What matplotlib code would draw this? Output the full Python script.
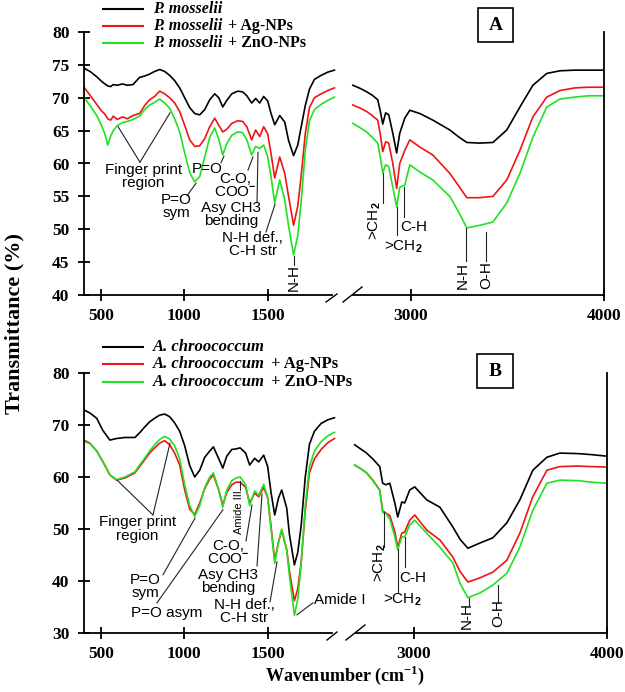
import matplotlib
matplotlib.use("Agg")
import matplotlib.pyplot as plt
from matplotlib.lines import Line2D
from matplotlib.patches import Rectangle

plt.rcParams["font.family"] = ["Liberation Serif", "DejaVu Serif"]
plt.rcParams["font.weight"] = "bold"
plt.rcParams["mathtext.fontset"] = "custom"
plt.rcParams["mathtext.rm"] = "Liberation Sans"
plt.rcParams["mathtext.it"] = "Liberation Sans:italic"
plt.rcParams["mathtext.bf"] = "Liberation Serif:bold"

# ---------------- data: panel A (P. mosselii) ----------------
legend_A = ["P. mosselii", "P. mosselii", "P. mosselii"]
suffix = ["", "+ Ag-NPs", "+ ZnO-NPs"]

wn_A_low = [400, 436, 476, 505, 525, 542, 560, 575, 600, 630,
            660, 693, 733, 763, 793, 823, 853, 883, 913, 943,
            973, 1003, 1033, 1063, 1093, 1123, 1153, 1183, 1207, 1231,
            1255, 1285, 1320, 1350, 1375, 1404, 1428, 1452, 1476, 1500,
            1520, 1542, 1572, 1602, 1625, 1655, 1680, 1700, 1725, 1750,
            1780, 1820, 1860, 1900]
A_ctrl_low = [74.5, 74.0, 73.2, 72.5, 72.1, 71.8, 71.7, 72.0, 71.9, 72.1,
              71.9, 72.0, 73.1, 73.3, 73.6, 74.0, 74.3, 74.0, 73.4, 72.6,
              71.5, 70.0, 68.5, 67.6, 67.4, 68.2, 69.7, 70.6, 70.0, 68.6,
              69.6, 70.6, 71.0, 70.9, 70.3, 69.2, 69.9, 69.2, 70.2, 69.5,
              67.6, 65.9, 67.3, 66.3, 63.5, 61.2, 62.8, 65.5, 68.8, 71.3,
              72.8, 73.4, 73.9, 74.2]
A_ag_low = [71.6, 70.4, 69.0, 68.0, 67.5, 66.8, 66.6, 67.2, 66.7, 67.1,
            66.8, 67.3, 67.6, 68.8, 69.7, 70.2, 71.0, 70.6, 70.0, 69.2,
            67.9, 65.8, 63.6, 62.6, 62.7, 63.8, 65.6, 66.9, 65.8, 64.8,
            65.2, 66.1, 66.5, 66.4, 65.6, 63.6, 65.1, 64.1, 65.6, 64.5,
            61.5, 57.8, 61.0, 58.5, 55.0, 50.6, 53.5, 58.0, 64.5, 68.5,
            70.0, 70.6, 71.1, 71.5]
A_zno_low = [70.1, 68.8, 67.3, 65.8, 64.5, 62.8, 64.2, 65.0, 65.8, 66.2,
             66.4, 66.7, 67.2, 68.2, 68.9, 69.3, 69.8, 69.2, 68.4, 66.8,
             64.8, 61.6, 58.6, 57.2, 58.0, 61.0, 64.0, 65.4, 63.7, 61.3,
             63.0, 64.3, 64.8, 64.7, 63.6, 61.3, 62.6, 62.3, 62.8, 61.0,
             58.0, 54.0, 57.5, 54.5, 50.5, 46.1, 49.0, 54.0, 62.0, 66.5,
             68.2, 69.0, 69.6, 70.1]

wn_A_high = [2700, 2740, 2772, 2800, 2829, 2842, 2855, 2870, 2886, 2907,
             2927, 2943, 2969, 2995, 3047, 3114, 3202, 3250, 3290, 3357,
             3425, 3497, 3565, 3632, 3704, 3772, 3850, 3920, 4000]
A_ctrl_high = [71.9, 71.4, 70.9, 70.4, 69.7, 68.0, 66.0, 67.7, 67.4, 64.6,
               61.6, 64.6, 66.9, 68.1, 67.6, 66.6, 65.1, 64.0, 63.2, 63.1,
               63.2, 65.1, 68.6, 71.9, 73.7, 74.1, 74.2, 74.2, 74.2]
A_ag_high = [68.9, 68.4, 67.9, 67.3, 66.6, 64.5, 61.8, 63.3, 63.1, 60.0,
             56.2, 60.0, 62.0, 63.6, 62.5, 61.3, 58.5, 56.5, 54.8, 54.8,
             55.0, 57.5, 62.0, 67.1, 70.1, 71.1, 71.5, 71.6, 71.6]
A_zno_high = [66.1, 65.4, 64.8, 64.0, 63.1, 61.0, 58.6, 59.8, 59.5, 56.4,
              53.4, 56.4, 56.7, 59.8, 58.7, 57.5, 55.0, 52.5, 50.2, 50.6,
              51.1, 54.0, 58.5, 64.0, 68.6, 69.8, 70.1, 70.3, 70.3]

# ---------------- data: panel B (A. chroococcum) ----------------
legend_B = ["A. chroococcum", "A. chroococcum", "A. chroococcum"]

wn_B_low = [400, 436, 476, 512, 555, 595, 645, 705,
            733, 763, 793, 823, 853, 883, 913, 943,
            973, 1003, 1033, 1063, 1093, 1123, 1153, 1175,
            1207, 1231, 1255, 1285, 1310, 1335, 1368,
            1392, 1422, 1446, 1476, 1500, 1520,
            1542, 1565, 1584, 1614, 1630, 1660, 1680,
            1700, 1725, 1750, 1780, 1820, 1860, 1900]
B_ctrl_low = [72.9, 72.3, 71.3, 69.0, 67.1, 67.4, 67.6, 67.6,
              68.5, 69.6, 70.6, 71.3, 71.9, 72.1, 71.6, 70.4,
              68.8, 66.0, 62.2, 60.0, 61.3, 63.8, 65.0, 65.8,
              63.5, 61.7, 64.0, 65.3, 65.4, 65.6, 64.6,
              62.3, 63.6, 62.9, 64.2, 62.0, 57.0,
              52.7, 56.0, 57.5, 54.0, 49.0, 43.1, 45.5,
              50.5, 60.0, 66.3, 68.8, 70.3, 71.0, 71.4]
B_ag_low = [67.1, 66.5, 65.0, 63.0, 60.4, 59.4, 59.8, 60.8,
            62.0, 63.3, 64.6, 65.6, 66.5, 67.0, 66.2, 64.6,
            62.3, 57.5, 53.8, 52.8, 55.0, 57.8, 59.6, 60.4,
            57.5, 54.6, 57.0, 58.5, 59.0, 59.0, 58.0,
            55.0, 56.9, 56.2, 58.0, 56.0, 50.5,
            44.0, 47.5, 49.8, 46.0, 42.0, 36.2, 38.5,
            43.5, 53.5, 60.8, 63.5, 65.3, 66.6, 67.4]
B_zno_low = [66.8, 66.4, 65.0, 63.0, 60.4, 59.5, 60.0, 61.0,
             62.3, 63.6, 65.0, 66.2, 67.2, 67.8, 67.3, 66.0,
             63.5, 58.5, 54.5, 52.4, 54.5, 58.0, 60.0, 60.8,
             57.5, 54.2, 57.5, 59.3, 59.8, 60.0, 58.5,
             54.5, 57.3, 56.5, 58.6, 56.0, 50.0,
             43.4, 47.5, 50.0, 46.0, 41.0, 33.4, 36.5,
             43.0, 54.5, 62.0, 65.0, 66.8, 67.9, 68.6]

wn_B_high = [2694, 2725, 2756, 2790, 2824, 2839, 2855, 2876, 2902, 2917,
             2938, 2953, 2979, 3005, 3067, 3135, 3202, 3240, 3280, 3342,
             3409, 3482, 3549, 3616, 3689, 3756, 3850, 3920, 4000]
B_ctrl_high = [66.2, 65.4, 64.6, 63.4, 62.0, 58.8, 58.5, 58.8, 55.0, 52.3,
               55.2, 55.0, 57.5, 58.1, 55.6, 54.2, 50.4, 48.0, 46.3, 47.3,
               48.3, 51.2, 55.6, 61.3, 63.8, 64.6, 64.5, 64.3, 64.0]
B_ag_high = [62.3, 61.6, 60.8, 59.3, 57.5, 53.5, 53.1, 52.6, 49.5, 46.5,
             49.2, 49.4, 51.7, 52.7, 49.8, 47.9, 44.6, 41.8, 39.8, 40.6,
             41.7, 44.0, 49.2, 56.2, 61.3, 62.0, 62.1, 62.0, 61.9]
B_zno_high = [62.3, 61.6, 60.8, 59.2, 57.4, 53.2, 53.0, 51.9, 48.5, 46.0,
              48.5, 48.5, 50.8, 51.7, 49.2, 46.5, 43.5, 39.5, 36.8, 37.7,
              39.2, 41.5, 46.5, 53.6, 58.8, 59.4, 59.3, 59.0, 58.8]

xticks_low = [500, 1000, 1500]
xticks_high = [3000, 4000]
yticks_A = [40, 45, 50, 55, 60, 65, 70, 75, 80]
yticks_B = [30, 40, 50, 60, 70, 80]

# ---------------- styling ----------------
COLORS = ["#000000", "#F01414", "#22E022"]
W, H = 625, 692
fig = plt.figure(figsize=(W / 100, H / 100), dpi=100)
fig.patch.set_facecolor("white")
renderer = fig.canvas.get_renderer()


def fx(px):
    return px / W


def fy(py):
    return 1 - py / H


def add_axes(l, r, t, b):
    return fig.add_axes([fx(l), fy(b), (r - l) / W, (b - t) / H])


ANN = dict(family="Liberation Sans", weight="normal", fontsize=11,
           color="black", linespacing=0.92, ha="center", va="center",
           clip_on=False)


def style_axes(axL, axR, ylim, yticks):
    for ax in (axL, axR):
        ax.set_ylim(*ylim)
        ax.set_facecolor("none")
        for s in ax.spines.values():
            s.set_linewidth(1.3)
        ax.spines["top"].set_visible(False)
        ax.tick_params(axis="both", direction="inout", length=9, width=1.3,
                       labelsize=12.5)
        ax.tick_params(axis="x", pad=5)
        ax.tick_params(axis="y", pad=6)
    axL.set_xlim(400, 1933)
    axR.set_xlim(2670, 4000)
    axL.spines["right"].set_visible(False)
    axR.spines["left"].set_visible(False)
    axL.spines["bottom"].set_bounds(400, 1885)
    axR.spines["bottom"].set_bounds(2700, 4000)
    axL.set_xticks(xticks_low)
    axR.set_xticks(xticks_high)
    axL.set_yticks(yticks)
    axR.set_yticks([])
    for ax in (axL, axR):
        for lab in ax.get_xticklabels() + ax.get_yticklabels():
            lab.set_fontweight("bold")


def pointer(ax, x0, y0, x1, y1):
    ax.plot([x0, x1], [y0, y1], color="#222222", lw=0.8, clip_on=False)


def legend_rows(rows_py, names, size):
    for py, color, name, suf in zip(rows_py, COLORS, names, suffix):
        fig.add_artist(Line2D([fx(103), fx(143)], [fy(py), fy(py)], color=color,
                              lw=1.5, transform=fig.transFigure))
        t = fig.text(fx(153), fy(py), name, style="italic", weight="bold",
                     fontsize=size, va="center", ha="left")
        if suf:
            bb = t.get_window_extent(renderer)
            fig.text((bb.x1 + 6) / W, fy(py), suf, weight="bold", fontsize=size,
                     va="center", ha="left")


def panel_box(l, t, r, b, label):
    fig.add_artist(Rectangle((fx(l), fy(b)), (r - l) / W, (b - t) / H,
                             transform=fig.transFigure, fill=False, lw=1.2,
                             edgecolor="black"))
    fig.text(fx((l + r) / 2), fy((t + b) / 2), label, ha="center", va="center",
             fontsize=14, weight="bold")


def break_marks(segs):
    for (x0, y0, x1, y1) in segs:
        fig.add_artist(Line2D([fx(x0), fx(x1)], [fy(y0), fy(y1)], color="black",
                              lw=1.0, transform=fig.transFigure))


# ---------------- panel A ----------------
axAL = add_axes(84, 340, 32, 295)
axAR = add_axes(347, 604, 32, 295)
style_axes(axAL, axAR, (40, 80), yticks_A)
for c, ys in zip(COLORS, [A_ctrl_low, A_ag_low, A_zno_low]):
    axAL.plot(wn_A_low, ys, color=c, lw=1.2)
for c, ys in zip(COLORS, [A_ctrl_high, A_ag_high, A_zno_high]):
    axAR.plot(wn_A_high, ys, color=c, lw=1.2)

axAL.text(756, 58.0, "Finger print\nregion", **ANN)
pointer(axAL, 735, 60.2, 604, 65.6)
pointer(axAL, 735, 60.2, 915, 67.7)
axAL.text(1137, 59.2, "P=O", **ANN)
pointer(axAL, 1220, 60.1, 1238, 61.1)
axAL.text(1304, 56.7, "C-O,\nCOO$^{-}$", **ANN)
pointer(axAL, 1382, 59.0, 1412, 61.0)
axAL.text(1282, 52.3, "Asy CH3\nbending", **ANN)
pointer(axAL, 1436, 54.1, 1442, 61.7)
axAL.text(1410, 47.7, "N-H def.,\nC-H str", **ANN)
pointer(axAL, 1490, 49.6, 1544, 53.8)
axAL.text(951, 53.5, "P=O\nsym", **ANN)
pointer(axAL, 1017, 55.1, 1071, 57.0)
axAL.text(1655, 42.7, "N-H", rotation=90, **ANN)
pointer(axAL, 1655, 44.6, 1655, 46.0)

axAR.text(2814, 51.3, ">CH$_2$", rotation=90, **ANN)
pointer(axAR, 2855, 58.6, 2855, 54.0)
axAR.text(2959, 47.3, ">CH$_2$", **ANN)
pointer(axAR, 2927, 53.4, 2927, 49.1)
axAR.text(3016, 50.3, "C-H", **ANN)
pointer(axAR, 2964, 56.4, 2964, 51.9)
axAR.text(3270, 43.0, "N-H", rotation=90, **ANN)
pointer(axAR, 3285, 50.2, 3285, 45.2)
axAR.text(3389, 43.0, "O-H", rotation=90, **ANN)
pointer(axAR, 3389, 49.6, 3389, 45.2)

legend_rows([9, 26, 43], legend_A, 11.5)
panel_box(478, 8, 513, 42, "A")
break_marks([(326, 302, 337, 294), (343, 302, 362, 287)])

# ---------------- panel B ----------------
axBL = add_axes(84, 340, 373, 633)
axBR = add_axes(350, 607, 373, 633)
style_axes(axBL, axBR, (30, 80), yticks_B)
for c, ys in zip(COLORS, [B_ctrl_low, B_ag_low, B_zno_low]):
    axBL.plot(wn_B_low, ys, color=c, lw=1.2)
for c, ys in zip(COLORS, [B_ctrl_high, B_ag_high, B_zno_high]):
    axBR.plot(wn_B_high, ys, color=c, lw=1.2)

axBL.text(720, 50.0, "Finger print\nregion", **ANN)
pointer(axBL, 813, 52.7, 598, 59.4)
pointer(axBL, 813, 52.7, 915, 66.5)
axBL.text(765, 39.0, "P=O\nsym", **ANN)
pointer(axBL, 873, 41.2, 1065, 52.1)
axBL.text(897, 33.8, "P=O asym", **ANN)
pointer(axBL, 837, 35.8, 1232, 53.7)
axBL.text(1328, 53.2, "Amide III", rotation=90,
          **{**ANN, "fontsize": 8})
pointer(axBL, 1334, 57.5, 1334, 59.2)
axBL.text(1262, 45.5, "C-O,\nCOO$^{-}$", **ANN)
pointer(axBL, 1370, 47.7, 1406, 54.6)
axBL.text(1262, 39.9, "Asy CH3\nbending", **ANN)
pointer(axBL, 1436, 42.9, 1466, 56.7)
axBL.text(1358, 34.1, "N-H def.,\nC-H str", **ANN)
pointer(axBL, 1514, 36.0, 1556, 43.7)
axBL.text(1933, 36.3, "Amide I", **ANN)
pointer(axBL, 1675, 33.5, 1771, 35.8)

axBR.text(2824, 43.5, ">CH$_2$", rotation=90, **ANN)
pointer(axBR, 2845, 53.3, 2845, 46.5)
axBR.text(2938, 36.3, ">CH$_2$", **ANN)
pointer(axBR, 2917, 46.2, 2917, 37.7)
axBR.text(2995, 40.6, "C-H", **ANN)
pointer(axBR, 2954, 48.5, 2954, 42.7)
axBR.text(3275, 33.3, "N-H", rotation=90, **ANN)
pointer(axBR, 3285, 36.7, 3285, 35.4)
axBR.text(3435, 33.8, "O-H", rotation=90, **ANN)
pointer(axBR, 3435, 39.2, 3435, 36.0)

legend_rows([347, 364, 382], legend_B, 12)
panel_box(477, 354, 513, 388, "B")
break_marks([(327, 640, 337, 632), (346, 640, 365, 625)])

# ---------------- shared labels ----------------
fig.text(fx(14), fy(323), "Transmittance (%)", rotation=90, ha="center",
         va="center", fontsize=16, weight="bold")
fig.text(fx(345), fy(675), r"Wavenumber (cm$^{\mathbf{-1}}$)", ha="center",
         va="center", fontsize=13, weight="bold")

fig.savefig("out.png", dpi=100)
